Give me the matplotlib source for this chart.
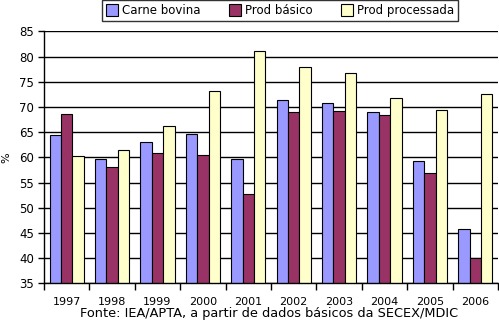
import numpy as np
import matplotlib.pyplot as plt

anos = ['1997', '1998', '1999', '2000', '2001', '2002', '2003', '2004', '2005', '2006']
carne_bovina = [64.4, 59.6, 63.0, 64.6, 59.7, 71.4, 70.7, 68.9, 59.2, 45.7]
prod_basico = [68.5, 58.1, 60.8, 60.4, 52.7, 68.9, 69.1, 68.3, 56.8, 40.0]
prod_processada = [60.2, 61.4, 66.2, 73.2, 81.0, 77.9, 76.7, 71.7, 69.3, 72.5]

plt.rcParams['font.family'] = 'DejaVu Sans'

fig = plt.figure(figsize=(4.99, 3.21), dpi=100)
ax = fig.add_axes([44/499, 1-283.3/321, (498-44)/499, (283.3-31.3)/321])

x = np.arange(len(anos))
w = 0.25
ax.bar(x - w, carne_bovina, w, color='#9999FF', edgecolor='black', linewidth=0.8, label='Carne bovina', zorder=3)
ax.bar(x, prod_basico, w, color='#993366', edgecolor='black', linewidth=0.8, label='Prod básico', zorder=3)
ax.bar(x + w, prod_processada, w, color='#FFFFCC', edgecolor='black', linewidth=0.8, label='Prod processada', zorder=3)

ax.set_ylim(35, 85)
ax.set_yticks(np.arange(35, 86, 5))
ax.set_xlim(-0.5, len(anos) - 0.5)
ax.set_xticks(x)
ax.set_xticklabels(anos)
ax.set_xticks(np.arange(-0.5, len(anos), 1), minor=True)
ax.tick_params(axis='x', which='major', length=0, labelsize=8, pad=10)
ax.tick_params(axis='x', which='minor', length=5, width=1, direction='out')
ax.tick_params(axis='y', length=4, width=1, labelsize=8.5, pad=3)
ax.grid(axis='y', color='black', linewidth=1, zorder=0)
ax.set_axisbelow(True)
for s in ['top', 'right']:
    ax.spines[s].set_visible(False)
for s in ['left', 'bottom']:
    ax.spines[s].set_linewidth(1)
    ax.spines[s].set_zorder(4)

ax.set_ylabel('%', fontsize=8, labelpad=6)

leg = fig.legend(loc='upper left', bbox_to_anchor=(102/499, 1.0), ncol=3,
                 fontsize=8.5, frameon=True, fancybox=False, edgecolor='black',
                 handlelength=1.0, handleheight=1.1, handletextpad=0.35,
                 columnspacing=2.4, borderpad=0.35, borderaxespad=0)
leg.get_frame().set_linewidth(1)

fig.text(269/499, 1-314/321, 'Fonte: IEA/APTA, a partir de dados básicos da SECEX/MDIC',
         ha='center', va='center', fontsize=9.3)

fig.savefig('out.png', dpi=100)
